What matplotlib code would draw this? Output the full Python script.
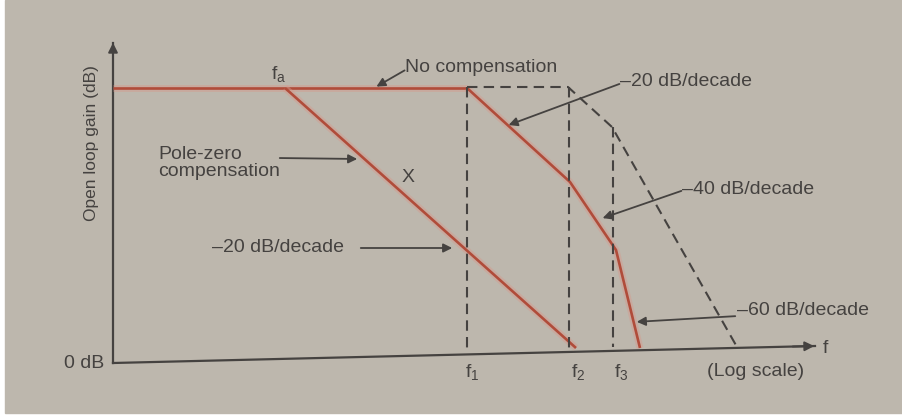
import matplotlib.pyplot as plt
from matplotlib.patches import Rectangle

# ── Diagram geometry (figure-pixel units, y grows downward) ──────────────────
y_axis_x = [113, 113]
y_axis_y = [363, 43]
x_axis_x = [113, 815]
x_axis_y = [363, 346]

# no compensation (solid flat part) + compensated break-points
flat_x = [113, 467]
flat_y = [88, 88]

pole_zero_x = [285, 576]          # fa -> f2
pole_zero_y = [88, 348]

no_comp_x = [467, 570, 616, 640]  # -20, -40, -60 dB/decade segments
no_comp_y = [88, 182, 250, 348]

dashed_x = [467, 568, 612, 737]
dashed_y = [87, 87, 127, 347]

vlines_x = [467, 569, 613]
vlines_top = [87, 87, 127]
vlines_bot = [351, 348, 347]

freq_labels = ["f$_\\mathregular{1}$", "f$_\\mathregular{2}$", "f$_\\mathregular{3}$"]
freq_label_x = [472, 578, 621]

BG = "#bdb7ad"
INK = "#454240"
RED = "#b04c3a"
HALO = "#d69a8c"

plt.rcParams["font.family"] = ["Liberation Sans", "DejaVu Sans"]
plt.rcParams["mathtext.fontset"] = "custom"
plt.rcParams["mathtext.rm"] = "Liberation Sans"

fig = plt.figure(figsize=(9.03, 4.19), dpi=100)
ax = fig.add_axes([0, 0, 1, 1])
ax.set_xlim(0, 903)
ax.set_ylim(419, 0)
ax.axis("off")

ax.add_patch(Rectangle((5, 0), 898, 413, color=BG, zorder=0))

fs = 14

# ── Axes ─────────────────────────────────────────────────────────────────────
ax.plot(y_axis_x, y_axis_y, color=INK, lw=1.6)
ax.annotate("", xy=(113, 40), xytext=(113, 60),
            arrowprops=dict(arrowstyle="-|>", color=INK, lw=1.4, mutation_scale=14))
ax.plot(x_axis_x, x_axis_y, color=INK, lw=1.6)
ax.annotate("", xy=(817, 346), xytext=(790, 346.6),
            arrowprops=dict(arrowstyle="-|>", color=INK, lw=1.4, mutation_scale=14))

# ── Curves ───────────────────────────────────────────────────────────────────
for xs, ys in [(flat_x, flat_y), (pole_zero_x, pole_zero_y), (no_comp_x, no_comp_y)]:
    ax.plot(xs, ys, color=HALO, lw=5, alpha=0.45, solid_capstyle="butt")
    ax.plot(xs, ys, color=RED, lw=1.9, solid_capstyle="butt")
ax.plot(dashed_x, dashed_y, color=INK, lw=1.5, ls=(0, (5, 3)))
for x, t, b in zip(vlines_x, vlines_top, vlines_bot):
    ax.plot([x, x], [t, b], color=INK, lw=1.5, ls=(0, (5, 3)))

# ── Labels ───────────────────────────────────────────────────────────────────
ax.text(92, 143, "Open loop gain (dB)", rotation=90, ha="center", va="center",
        fontsize=12.5, color=INK)
ax.text(104, 363, "0 dB", ha="right", va="center", fontsize=fs, color=INK)
ax.text(279, 75, "f$_\\mathregular{a}$", ha="center", va="center", fontsize=fs, color=INK)
ax.text(408, 177, "X", ha="center", va="center", fontsize=fs, color=INK)
for lab, x in zip(freq_labels, freq_label_x):
    ax.text(x, 373, lab, ha="center", va="center", fontsize=fs, color=INK)
ax.text(756, 371, "(Log scale)", ha="center", va="center", fontsize=fs, color=INK)
ax.text(823, 348, "f", ha="left", va="center", fontsize=fs, color=INK)

arrow = dict(arrowstyle="-|>", color=INK, lw=1.3, mutation_scale=13)

ax.text(405, 68, "No compensation", ha="left", va="center", fontsize=fs, color=INK)
ax.annotate("", xy=(374, 88), xytext=(407, 69), arrowprops=arrow)

ax.text(158, 154, "Pole-zero", ha="left", va="center", fontsize=fs, color=INK)
ax.text(158, 171, "compensation", ha="left", va="center", fontsize=fs, color=INK)
ax.annotate("", xy=(360, 159), xytext=(277, 158), arrowprops=arrow)

ax.text(212, 247, "\u201320 dB/decade", ha="left", va="center", fontsize=fs, color=INK)
ax.annotate("", xy=(455, 248), xytext=(358, 248), arrowprops=arrow)

ax.text(620, 82, "\u201320 dB/decade", ha="left", va="center", fontsize=fs, color=INK)
ax.annotate("", xy=(506, 126), xytext=(622, 83), arrowprops=arrow)

ax.text(682, 189, "\u201340 dB/decade", ha="left", va="center", fontsize=fs, color=INK)
ax.annotate("", xy=(600, 219), xytext=(684, 190), arrowprops=arrow)

ax.text(737, 310, "\u201360 dB/decade", ha="left", va="center", fontsize=fs, color=INK)
ax.annotate("", xy=(634, 322), xytext=(738, 316), arrowprops=arrow)

fig.savefig("out.png", dpi=100, facecolor="white")
